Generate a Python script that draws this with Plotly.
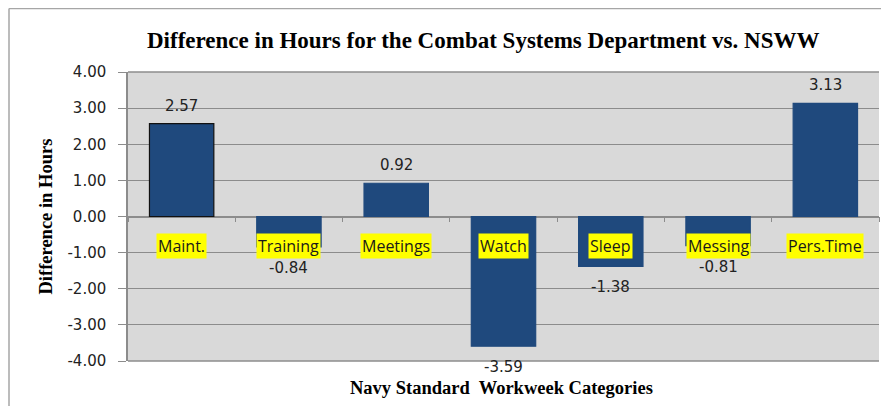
import plotly.graph_objects as go

categories = ["Maint.", "Training", "Meetings", "Watch", "Sleep", "Messing", "Pers.Time"]
values = [2.57, -0.84, 0.92, -3.59, -1.38, -0.81, 3.13]
y_ticks = [-4, -3, -2, -1, 0, 1, 2, 3, 4]
y_tick_labels = ["%.2f" % v for v in y_ticks]

bar_color = "#1F497D"
line_colors = ["#111111"] + [bar_color] * (len(categories) - 1)

# page body has an 8px margin; work in screen pixels and convert
O = 8
W, H = 889 - O, 406 - O
PL, PR, PT, PB = 128, 879, 72, 361          # plot area in screen px
L, R, T, B = PL - O, (889 - PR), PT - O, (406 - PB)
pw, ph = W - L - R, H - T - B


def px(sx):
    return (sx - PL) / pw


def py(sy):
    return (PB - sy) / ph


fig = go.Figure()
fig.add_trace(go.Bar(
    x=categories, y=values,
    marker=dict(color=bar_color, line=dict(color=line_colors, width=1.2)),
    hoverinfo="x+y",
))

annotations = []
for c, v in zip(categories, values):
    annotations.append(dict(
        x=c, y=v, xref="x", yref="y", text="%.2f" % v, showarrow=False,
        yshift=18 if v >= 0 else -21, yanchor="middle",
        font=dict(family="DejaVu Sans", size=15, color="#222222"),
    ))
    annotations.append(dict(
        x=c, y=0, xref="x", yref="y", text=c, showarrow=False,
        yshift=-29, yanchor="middle", bgcolor="#FFFF00", borderpad=1,
        font=dict(family="Open Sans", size=16, color="#1a1a1a"),
    ))

annotations.append(dict(
    x=px(483), y=py(40), xref="paper", yref="paper",
    text="<b>Difference in Hours for the Combat Systems Department vs. NSWW</b>",
    showarrow=False, xanchor="center", yanchor="middle",
    font=dict(family="Liberation Serif", size=23, color="#000000"),
))
annotations.append(dict(
    x=px(501), y=py(388), xref="paper", yref="paper",
    text="<b>Navy Standard  Workweek Categories</b>",
    showarrow=False, xanchor="center", yanchor="middle",
    font=dict(family="Liberation Serif", size=18.5, color="#000000"),
))
annotations.append(dict(
    x=px(45), y=0.5, xref="paper", yref="paper",
    text="<b>Difference in Hours</b>", textangle=-90,
    showarrow=False, xanchor="center", yanchor="middle",
    font=dict(family="Liberation Serif", size=18.5, color="#000000"),
))

border = "#A6A6A6"
shapes = [
    dict(type="line", xref="paper", yref="paper",
         x0=px(9), x1=px(9), y0=py(430), y1=py(8.6),
         line=dict(color=border, width=1.5)),
    dict(type="line", xref="paper", yref="paper",
         x0=px(9), x1=px(900), y0=py(8.6), y1=py(8.6),
         line=dict(color=border, width=1.5)),
    dict(type="line", xref="paper", yref="paper", layer="below",
         x0=0, x1=1, y0=0, y1=0, line=dict(color="#8C8C8C", width=1.5)),
    dict(type="line", xref="paper", yref="paper", layer="below",
         x0=0, x1=1, y0=1, y1=1, line=dict(color="#8C8C8C", width=1.5)),
]

fig.update_layout(
    width=W, height=H,
    margin=dict(l=L, r=R, t=T, b=B, pad=0),
    paper_bgcolor="#FFFFFF", plot_bgcolor="#D9D9D9",
    bargap=0.4, showlegend=False,
    annotations=annotations, shapes=shapes,
    xaxis=dict(
        anchor="free", position=0.5, showline=True, linecolor="#8C8C8C", linewidth=1.5,
        ticks="outside", tickson="boundaries", ticklen=5, tickcolor="#8C8C8C", tickwidth=1.2,
        showticklabels=False, showgrid=False, zeroline=False,
        range=[-0.5, len(categories) - 0.5], layer="below traces",
    ),
    yaxis=dict(
        range=[-4, 4], tickvals=y_ticks, ticktext=y_tick_labels,
        showline=True, linecolor="#8C8C8C", linewidth=1.5,
        ticks="outside", ticklen=8, tickcolor="#8C8C8C", tickwidth=1.2,
        ticklabelstandoff=9,
        showgrid=True, gridcolor="#8C8C8C", gridwidth=1.2,
        zeroline=False, layer="below traces",
        tickfont=dict(family="DejaVu Sans", size=15, color="#222222"),
    ),
)

fig.write_html("out.html")
